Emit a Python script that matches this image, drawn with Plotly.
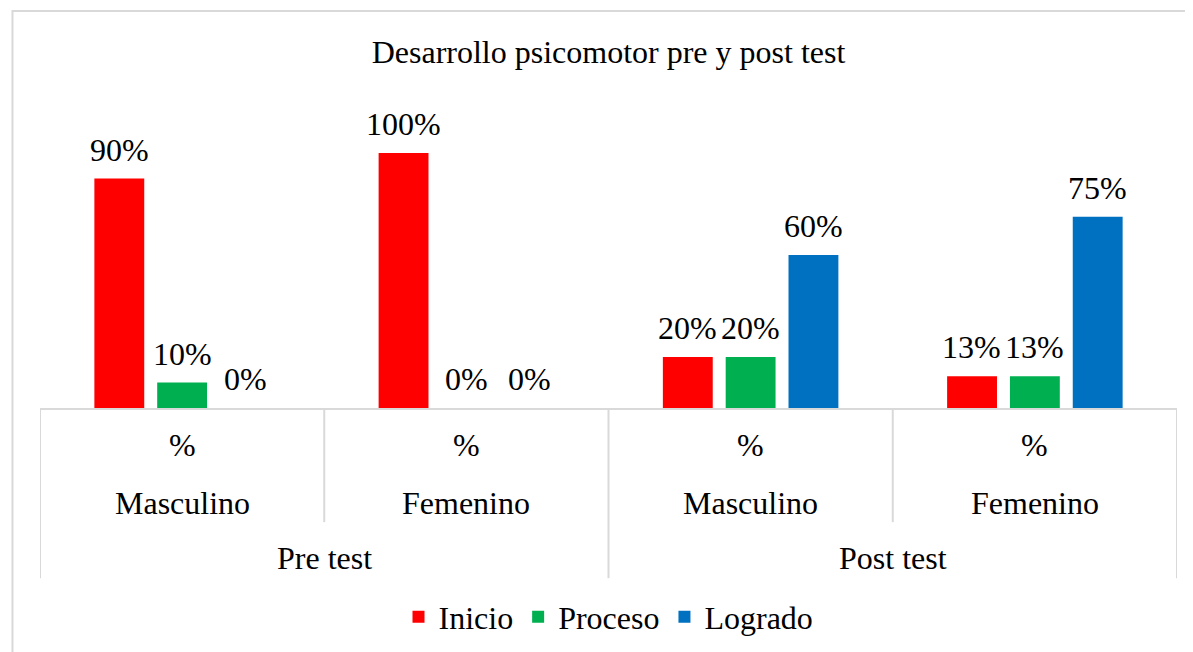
import plotly.graph_objects as go

# Data
groups = ["Pre test", "Pre test", "Post test", "Post test"]
sexes = ["Masculino", "Femenino", "Masculino", "Femenino"]
unit = ["%", "%", "%", "%"]
series_names = ["Inicio", "Proceso", "Logrado"]
inicio = [90, 100, 20, 12.5]
proceso = [10, 0, 20, 12.5]
logrado = [0, 0, 60, 75]
inicio_labels = ["90%", "100%", "20%", "13%"]
proceso_labels = ["10%", "0%", "20%", "13%"]
logrado_labels = ["0%", "0%", "60%", "75%"]
colors = ["#FF0000", "#00B050", "#0070C0"]

cats = [f"{g} {s}" for g, s in zip(groups, sexes)]
FONT = "Liberation Serif"
FS = 32

fig = go.Figure()
series = list(zip(series_names, [inicio, proceso, logrado],
                  [inicio_labels, proceso_labels, logrado_labels], colors))
for name, vals, labs, col in series:
    fig.add_trace(go.Bar(
        x=cats, y=vals, name=name, marker_color=col, marker_line_width=0,
    ))

line_col = "#D9D9D9"
shapes = []
for i in range(len(cats) + 1):
    xpos = i - 0.5
    is_outer = (i == 0 or i == len(cats) or groups[i - 1] != groups[i])
    shapes.append(dict(type="line", xref="x", yref="paper", x0=xpos, x1=xpos,
                       y0=0, y1=-0.556 if is_outer else -0.373,
                       line=dict(color=line_col, width=2)))
shapes.append(dict(type="rect", xref="paper", yref="paper", x0=-0.0242, x1=1.03,
                   y0=-0.9, y1=1.297, line=dict(color=line_col, width=2),
                   fillcolor="rgba(0,0,0,0)", layer="below"))

annotations = []
# data labels above bars (offset per series within the group)
slot_px = 63
for j, (name, vals, labs, col) in enumerate(series):
    for c, v, lab in zip(cats, vals, labs):
        annotations.append(dict(x=c, xref="x", y=v, yref="y", text=lab, showarrow=False,
                                xshift=(j - 1) * slot_px, yanchor="bottom", yshift=9,
                                font=dict(family=FONT, size=FS, color="#000000")))
for c, u, s in zip(cats, unit, sexes):
    annotations.append(dict(x=c, xref="x", y=-0.121, yref="paper", text=u, showarrow=False,
                            font=dict(family=FONT, size=FS, color="#000000"), yanchor="middle"))
    annotations.append(dict(x=c, xref="x", y=-0.310, yref="paper", text=s, showarrow=False,
                            font=dict(family=FONT, size=FS, color="#000000"), yanchor="middle"))
seen = []
for g in groups:
    if g not in seen:
        seen.append(g)
for g in seen:
    idx = [i for i, gg in enumerate(groups) if gg == g]
    center = (idx[0] + idx[-1]) / 2
    annotations.append(dict(x=center, xref="x", y=-0.49, yref="paper", text=g, showarrow=False,
                            font=dict(family=FONT, size=FS, color="#000000"), yanchor="middle"))

fig.update_layout(
    width=1185, height=644,
    margin=dict(l=32, r=16, t=94, b=244, autoexpand=False),
    paper_bgcolor="white", plot_bgcolor="white",
    title=dict(text="Desarrollo psicomotor pre y post test", x=0.5, xref="paper", xanchor="center",
               y=1 - 44 / 644, yanchor="middle",
               font=dict(family=FONT, size=FS, color="#000000")),
    barmode="group", bargap=0.337, bargroupgap=0.206,
    xaxis=dict(showticklabels=False, ticks="", showgrid=False, zeroline=False,
               showline=True, linecolor=line_col, linewidth=2, range=[-0.5, 3.5],
               categoryorder="array", categoryarray=cats),
    yaxis=dict(visible=False, range=[0, 120]),
    legend=dict(orientation="h", x=0.5, xanchor="center", y=-0.683, yanchor="middle",
                font=dict(family=FONT, size=FS, color="#000000"), itemwidth=30),
    shapes=shapes, annotations=annotations, showlegend=True,
)

fig.write_html("out.html")
